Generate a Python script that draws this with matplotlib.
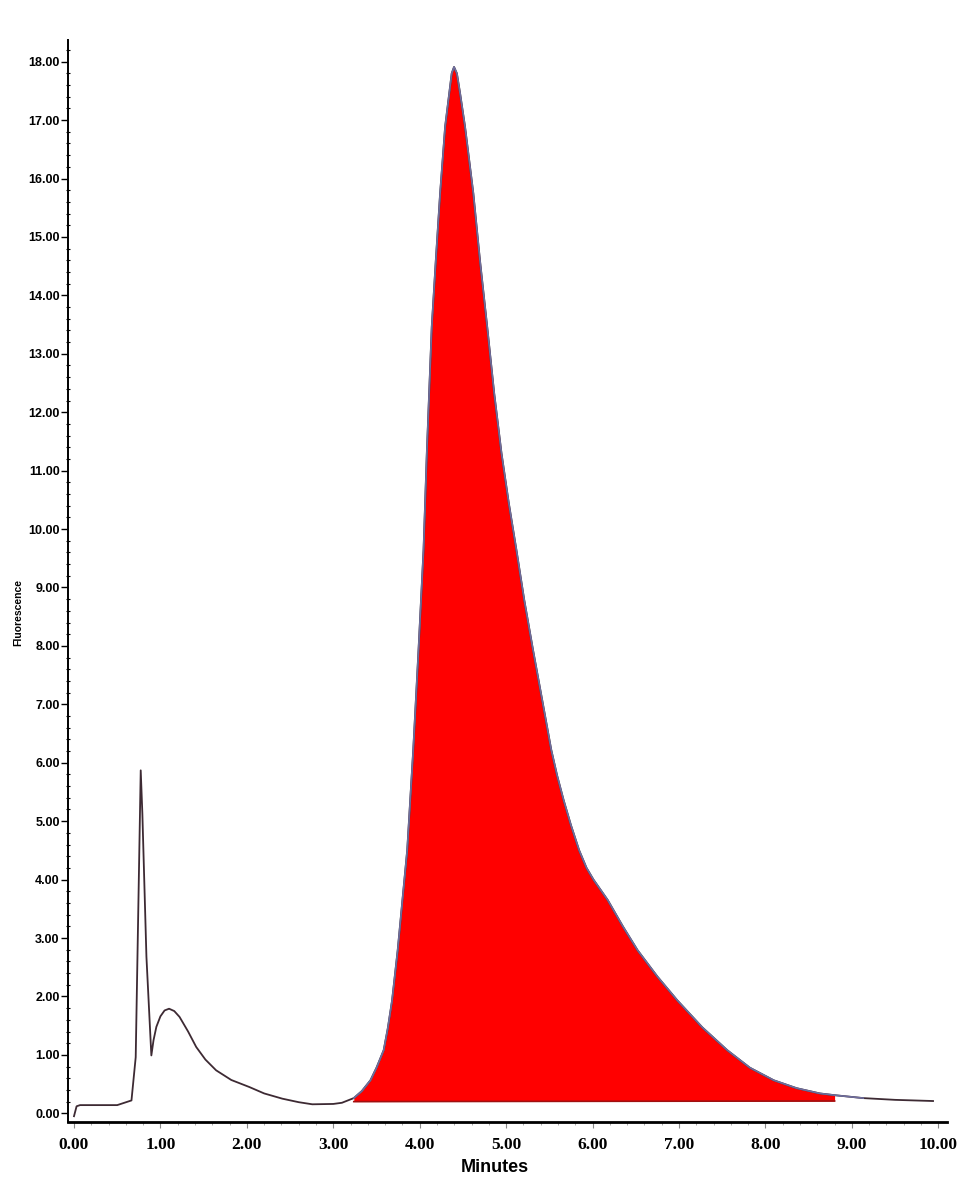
import matplotlib.pyplot as plt
import numpy as np
from matplotlib.ticker import MultipleLocator, FormatStrFormatter

# chromatogram trace: retention time (min) / fluorescence
t_early = [0.00, 0.03, 0.07, 0.30, 0.50, 0.665, 0.714, 0.772, 0.791, 0.838, 0.895,
           0.92, 0.953, 1.00, 1.048, 1.10, 1.16, 1.221, 1.32, 1.414, 1.52, 1.644,
           1.82, 2.028, 2.20, 2.411, 2.60, 2.757, 3.00, 3.10]
v_early = [-0.05, 0.12, 0.14, 0.14, 0.14, 0.22, 0.96, 5.87, 5.13, 2.68, 0.99,
           1.25, 1.48, 1.66, 1.76, 1.79, 1.75, 1.65, 1.40, 1.135, 0.92, 0.736,
           0.57, 0.45, 0.34, 0.25, 0.19, 0.154, 0.16, 0.18]

t_main = [3.237, 3.33, 3.43, 3.50, 3.583, 3.63, 3.68, 3.745, 3.80, 3.855, 3.925,
          3.986, 4.044, 4.082, 4.109, 4.139, 4.186, 4.236, 4.294, 4.37, 4.397,
          4.43, 4.467, 4.524, 4.62, 4.697, 4.781, 4.862, 4.946, 5.03, 5.119,
          5.21, 5.311, 5.42, 5.522, 5.59, 5.665, 5.75, 5.845, 5.93, 6.01,
          6.175, 6.35, 6.521, 6.75, 6.982, 7.27, 7.558, 7.82, 8.096, 8.36,
          8.629, 8.80, 9.132, 9.50, 9.939]
v_main = [0.26, 0.38, 0.565, 0.78, 1.08, 1.45, 1.93, 2.79, 3.65, 4.50, 6.22,
          7.93, 9.64, 11.30, 12.33, 13.46, 14.60, 15.75, 16.89, 17.80, 17.91,
          17.80, 17.46, 16.89, 15.75, 14.60, 13.46, 12.32, 11.30, 10.45, 9.64,
          8.78, 7.93, 7.05, 6.22, 5.78, 5.36, 4.93, 4.50, 4.20, 4.00,
          3.65, 3.20, 2.79, 2.34, 1.93, 1.47, 1.08, 0.78, 0.565, 0.43,
          0.34, 0.31, 0.26, 0.23, 0.21]

# integration baseline under the main peak
base_t = [3.237, 8.80]
base_v = [0.20, 0.21]

t = np.array(t_early + t_main)
v = np.array(v_early + v_main)

fig = plt.figure(figsize=(9.65, 11.79), dpi=100)
ax = fig.add_axes([0.0705, 0.0483, 0.9108, 0.9177])

mask = (t >= base_t[0]) & (t <= base_t[1])
base_line = np.interp(t[mask], base_t, base_v)
ax.fill_between(t[mask], v[mask], base_line, color="#ff0000", lw=0, zorder=1)
ax.plot(base_t, base_v, color="#a01010", lw=1.2, zorder=2)

ax.plot(t, v, color="#3d2a33", lw=1.3, zorder=3)
tm = np.array(t_main)
vm = np.array(v_main)
sel = tm <= 9.2
ax.plot(tm[sel], vm[sel], color="#6e6e9e", lw=1.2, zorder=4)

ax.set_xlim(-0.069, 10.10)
ax.set_ylim(-0.15, 18.37)

for s in ["top", "right"]:
    ax.spines[s].set_visible(False)
ax.spines["left"].set_linewidth(1.4)
ax.spines["bottom"].set_linewidth(2.0)

ax.xaxis.set_major_locator(MultipleLocator(1))
ax.xaxis.set_minor_locator(MultipleLocator(0.2))
ax.yaxis.set_major_locator(MultipleLocator(1))
ax.yaxis.set_minor_locator(MultipleLocator(0.2))
ax.xaxis.set_major_formatter(FormatStrFormatter("%.2f"))
ax.yaxis.set_major_formatter(FormatStrFormatter("%.2f"))

ax.tick_params(axis="y", which="major", direction="out", length=5, width=1.0, pad=1)
ax.tick_params(axis="y", which="minor", direction="inout", length=3, width=0.8)
ax.tick_params(axis="x", which="major", direction="out", length=4, width=0.8,
               color="#888888", pad=7)
ax.tick_params(axis="x", which="minor", direction="out", length=2.5, width=0.7,
               color="#aaaaaa")

for lab in ax.get_yticklabels():
    lab.set_fontfamily("Liberation Sans")
    lab.set_fontweight("bold")
    lab.set_fontsize(9)
for lab in ax.get_xticklabels():
    lab.set_fontfamily("Liberation Serif")
    lab.set_fontweight("bold")
    lab.set_fontsize(12.5)

fig.text(495 / 965, 1 - 1168 / 1179, "Minutes", ha="center", va="center",
         fontsize=13, fontweight="bold", family="Liberation Sans")
fig.text(18 / 965, 1 - 612 / 1179, "Fluorescence", ha="center", va="center",
         rotation=90, fontsize=7.5, fontweight="bold", family="Liberation Sans")

fig.savefig("out.png", dpi=100)
